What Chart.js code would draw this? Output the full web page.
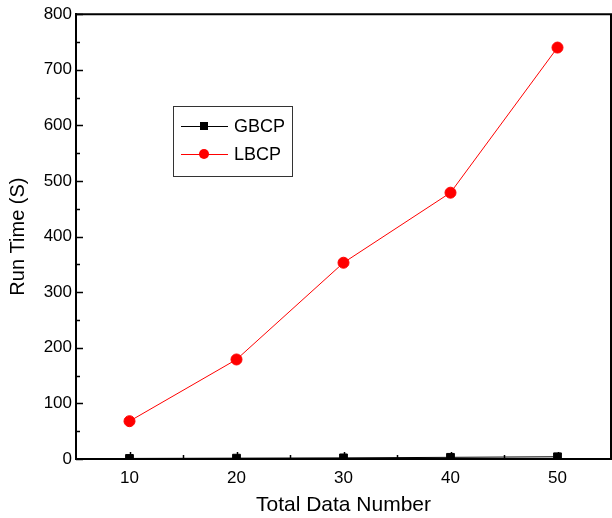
<!DOCTYPE html>
<html>
<head>
<meta charset="utf-8">
<script src="https://cdn.jsdelivr.net/npm/chart.js@4"></script>
<style>
  html, body { margin: 0; padding: 0; background: #fff; }
  #wrap { width: 612px; height: 518px; position: relative; }
</style>
</head>
<body>
<div id="wrap"><canvas id="runChart" width="612" height="518"></canvas></div>
<script>
// data
const dataNumbers = [10, 20, 30, 40, 50];
const gbcpTimes = [1, 1.5, 2, 3, 4];
const lbcpTimes = [68, 179, 353, 479, 740];
const xTickValues = [10, 20, 30, 40, 50];
const xMinorTicks = [15, 25, 35, 45];

const FONT = '"Liberation Sans", Arial, sans-serif';

// inward ticks, top/right frame and the boxed legend
const framePlugin = {
    id: 'frame',
    afterDraw: function (chart) {
        const ctx = chart.ctx;
        const area = chart.chartArea;
        const xs = chart.scales.x;
        const ys = chart.scales.y;
        ctx.save();
        ctx.strokeStyle = '#000';
        ctx.lineWidth = 2;
        ctx.beginPath();
        ctx.moveTo(area.left, area.top);
        ctx.lineTo(area.right, area.top);
        ctx.lineTo(area.right, area.bottom);
        ctx.stroke();

        ctx.lineWidth = 1.5;
        ctx.beginPath();
        xTickValues.forEach(v => {
            const px = Math.round(xs.getPixelForValue(v)) + 0.5;
            ctx.moveTo(px, area.bottom);
            ctx.lineTo(px, area.bottom - 7);
        });
        xMinorTicks.forEach(v => {
            const px = Math.round(xs.getPixelForValue(v)) + 0.5;
            ctx.moveTo(px, area.bottom);
            ctx.lineTo(px, area.bottom - 4);
        });
        for (let v = 0; v <= 800; v += 50) {
            const py = Math.round(ys.getPixelForValue(v)) + 0.5;
            const len = v % 100 === 0 ? 7 : 4;
            ctx.moveTo(area.left, py);
            ctx.lineTo(area.left + len, py);
        }
        ctx.stroke();

        // legend
        const bx = 173, by = 106, bw = 119, bh = 70;
        ctx.lineWidth = 1;
        ctx.strokeStyle = '#333';
        ctx.strokeRect(bx + 0.5, by + 0.5, bw, bh);
        const items = chart.data.datasets;
        const rowsY = [126, 154];
        items.forEach((ds, i) => {
            const y = rowsY[i];
            ctx.strokeStyle = ds.borderColor;
            ctx.lineWidth = 1;
            ctx.beginPath();
            ctx.moveTo(181, y + 0.5);
            ctx.lineTo(228, y + 0.5);
            ctx.stroke();
            ctx.fillStyle = ds.pointBackgroundColor;
            if (ds.pointStyle === 'rect') {
                ctx.fillRect(200, y - 4, 8, 8);
            } else {
                ctx.beginPath();
                ctx.arc(204, y, 5, 0, Math.PI * 2);
                ctx.fill();
            }
            ctx.fillStyle = '#000';
            ctx.font = '18px ' + FONT;
            ctx.textBaseline = 'middle';
            ctx.textAlign = 'left';
            ctx.fillText(ds.label, 234, y + 1);
        });
        ctx.restore();
    }
};

const ctx = document.getElementById('runChart').getContext('2d');
new Chart(ctx, {
    type: 'line',
    data: {
        datasets: [{
            label: 'GBCP',
            data: dataNumbers.map((x, i) => ({ x: x, y: gbcpTimes[i] })),
            borderColor: '#000',
            backgroundColor: '#000',
            pointBackgroundColor: '#000',
            pointBorderColor: '#000',
            pointStyle: 'rect',
            pointRadius: 5.5,
            borderWidth: 1,
            tension: 0
        }, {
            label: 'LBCP',
            data: dataNumbers.map((x, i) => ({ x: x, y: lbcpTimes[i] })),
            borderColor: '#ff0000',
            backgroundColor: '#ff0000',
            pointBackgroundColor: '#ff0000',
            pointBorderColor: '#ff0000',
            pointStyle: 'circle',
            pointRadius: 5.5,
            borderWidth: 1,
            tension: 0
        }]
    },
    options: {
        responsive: false,
        animation: false,
        layout: { autoPadding: false, padding: { top: 13, right: 1, left: 0, bottom: 0 } },
        plugins: {
            legend: { display: false },
            tooltip: { enabled: false }
        },
        scales: {
            x: {
                type: 'linear',
                min: 5,
                max: 55,
                afterBuildTicks: function (axis) {
                    axis.ticks = xTickValues.map(v => ({ value: v }));
                },
                afterFit: function (axis) {
                    axis.height = 59;
                    axis.paddingLeft = 0;
                    axis.paddingRight = 0;
                },
                grid: { display: false, drawTicks: false },
                border: { display: true, color: '#000', width: 2 },
                ticks: { color: '#000', padding: 9, font: { family: FONT, size: 17 } },
                title: {
                    display: true,
                    text: 'Total Data Number',
                    color: '#000',
                    font: { family: FONT, size: 21 },
                    padding: { top: 2, bottom: 0 }
                }
            },
            y: {
                min: 0,
                max: 800,
                ticks: { stepSize: 100, color: '#000', padding: 4, font: { family: FONT, size: 17 } },
                afterFit: function (axis) { axis.width = 76; },
                grid: { display: false, drawTicks: false },
                border: { display: true, color: '#000', width: 2 },
                title: {
                    display: true,
                    text: 'Run Time (S)',
                    color: '#000',
                    font: { family: FONT, size: 20 },
                    padding: { top: 6, bottom: 0 }
                }
            }
        }
    },
    plugins: [framePlugin]
});
</script>
</body>
</html>
